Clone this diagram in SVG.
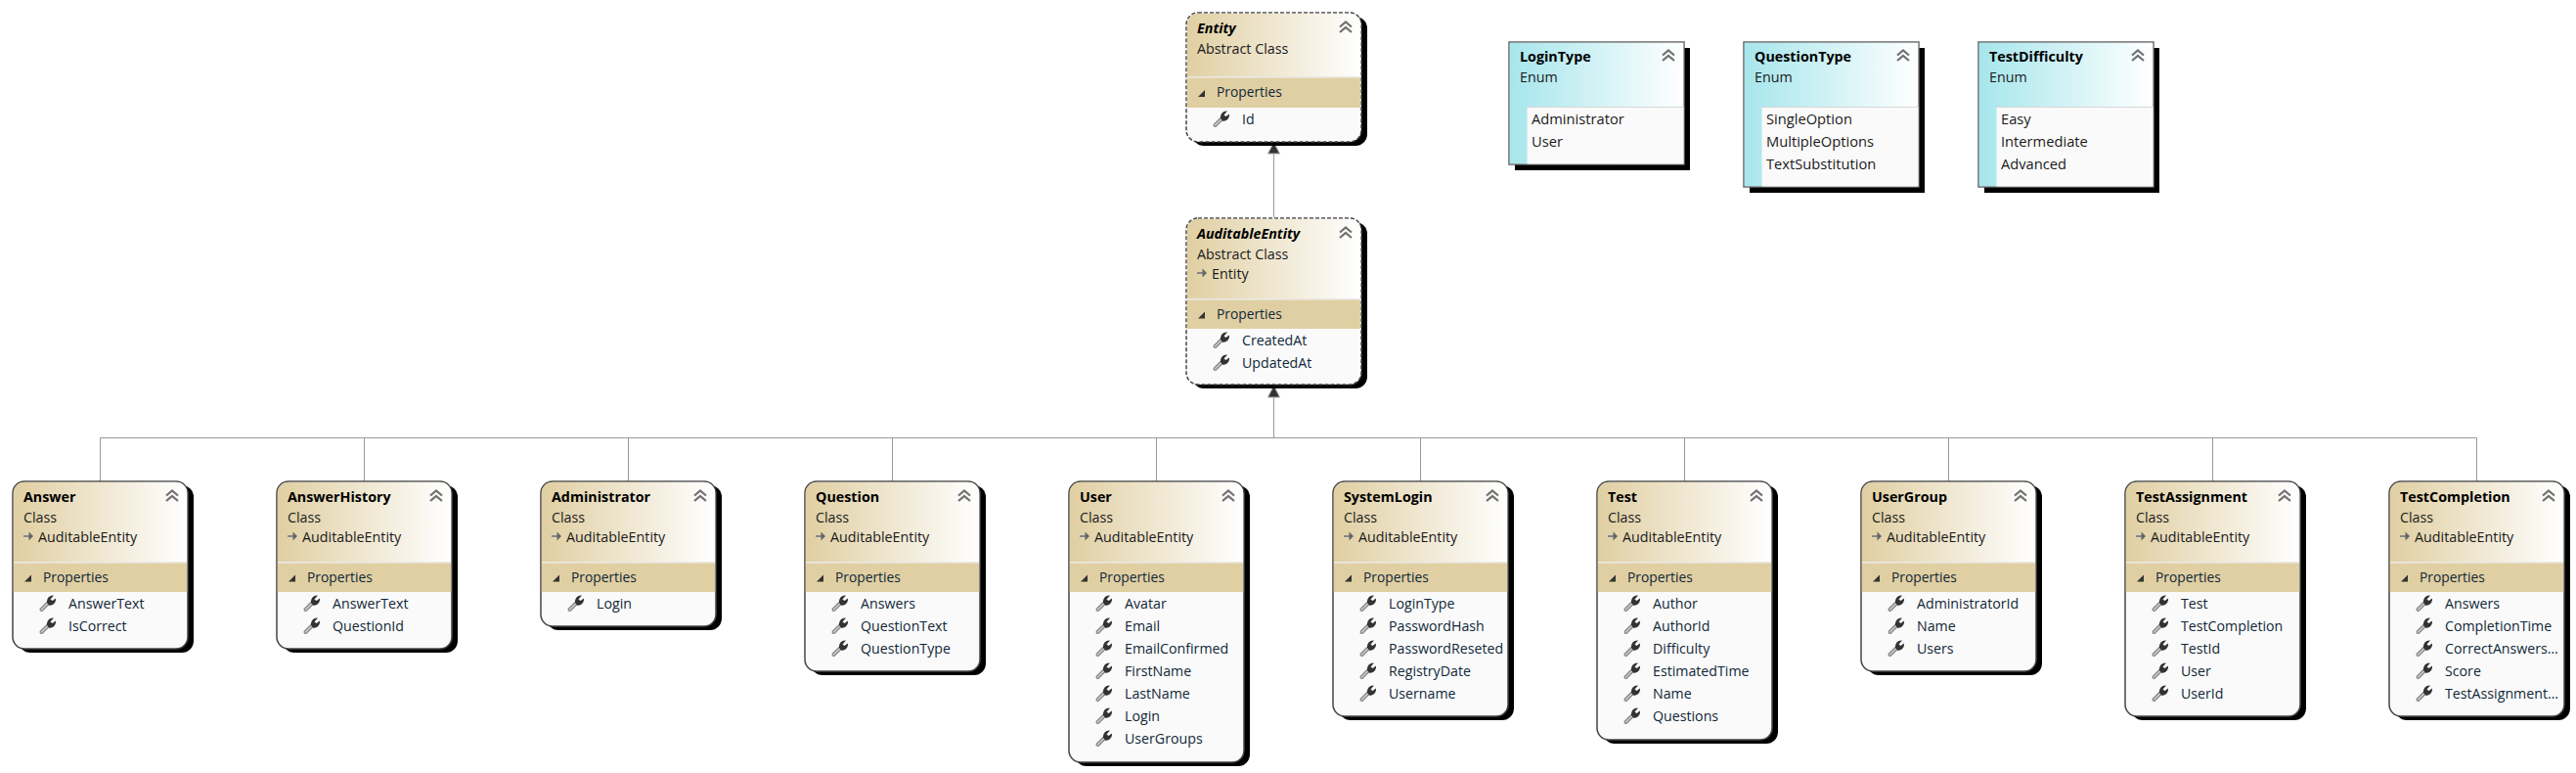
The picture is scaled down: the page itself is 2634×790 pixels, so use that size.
<svg xmlns="http://www.w3.org/2000/svg" width="2634" height="790" viewBox="0 0 2634 790">
<style>
text{font-family:"Open Sans","Noto Sans","Liberation Sans",sans-serif;font-size:14.3px;fill:#1a1a1a}
.t{font-weight:700;fill:#000;font-size:14.3px}
.i{font-style:italic}
.e{font-size:14.7px;fill:#1a1a1a}
.h{font-size:13.8px;fill:#102838}
.b{fill:#000;stroke:none}
.c{fill:#fafafa;stroke:#454545;stroke-width:1.500}
.a{fill:#fafafa;stroke:#454545;stroke-width:1.500;stroke-dasharray:4 2}
.n{fill:#fafafa;stroke:#666;stroke-width:1.500}
.d{fill:#e0cfa2}
.p{fill:#102838;font-size:14.200px}
.l{fill:none;stroke:#999;stroke-width:1}
</style>
<defs>
<linearGradient id="g1"><stop offset="0" stop-color="#e0cfa2"/><stop offset="1" stop-color="#fff"/></linearGradient>
<linearGradient id="g2"><stop offset="0" stop-color="#a6e6ec"/><stop offset="1" stop-color="#fff"/></linearGradient>
<path id="chev" d="M-6 -0.500L0 -5.500L6 -0.500M-6 5L0 0L6 5" fill="none" stroke="#707070" stroke-width="2.200"/>
<g id="wr"><path d="M2.500 15L9 8.500" stroke="#8a8a8a" stroke-width="4" stroke-linecap="round"/><path d="M2.500 15L9 8.500" stroke="#ccc" stroke-width="1.500" stroke-linecap="round"/><path d="M15 0.500C11 0 7.500 3 8 8L10 10.500C14 11.500 17.500 8 17 3.500L13.500 6L11.500 4.500Z" fill="#333"/></g>
<g id="inh"><path d="M0 5H6" stroke="#888" stroke-width="2"/><path d="M5.500 0.500L10 5L5.500 9.500Z" fill="#666"/></g>
<path id="tri" d="M0 7L7 0V7Z" fill="#333"/>
<g id="hd"><path d="M0.800 82V12A11.200 11.200 0 0 1 12 0.800H167A11.200 11.200 0 0 1 178.200 12V82Z" fill="url(#g1)"/><rect x="0.800" y="82" width="177.400" height="1.500" fill="#e8e8e8"/><rect x="0.800" y="83.500" width="177.400" height="29.500" class="d"/><use href="#chev" x="163" y="15"/><use href="#tri" x="12" y="95.500"/></g>
<g id="hd2"><path d="M0.800 66V12A11.200 11.200 0 0 1 12 0.800H167A11.200 11.200 0 0 1 178.200 12V66Z" fill="url(#g1)"/><rect x="0.800" y="65" width="177.400" height="1.500" fill="#e8e8e8"/><rect x="0.800" y="66.500" width="177.400" height="30.500" class="d"/><use href="#chev" x="163" y="15"/><use href="#tri" x="12" y="79"/></g>
<rect id="sh1" class="b" x="6" y="4" width="179" height="171" rx="12"/>
</defs>
<g id="connectors" class="l">
<path d="M1302.500 222V157"/>
<path d="M1302.500 447.500V406"/>
<path d="M102.500 492V447.500H2532.500"/>
<path d="M372.500 492V447.500"/><path d="M642.500 492V447.500"/><path d="M912.500 492V447.500"/><path d="M1182.500 492V447.500"/><path d="M1452.500 492V447.500"/><path d="M1722.500 492V447.500"/><path d="M1992.500 492V447.500"/><path d="M2262.500 492V447.500"/><path d="M2532.500 492V447.500"/>
<path d="M1296.500 157L1302.500 145.500L1308.500 157Z" fill="#333" stroke="#aaa"/>
<path d="M1296.500 406L1302.500 394L1308.500 406Z" fill="#333" stroke="#aaa"/>
</g>
<g id="Entity" transform="translate(1213,13)"><rect class="b" x="6" y="4" width="179" height="132" rx="12"/><rect class="a" width="179" height="132" rx="12"/><use href="#hd2"/><text class="t i" x="11" y="21">Entity</text><text x="11" y="42">Abstract Class</text><text class="h" x="31" y="86">Properties</text><use href="#wr" x="27" y="100"/><text class="p" x="57" y="114">Id</text></g>
<g id="AuditableEntity" transform="translate(1213,223)"><rect class="b" x="6" y="4" width="179" height="170" rx="12"/><rect class="a" width="179" height="170" rx="12"/><use href="#hd"/><text class="t i" x="11" y="21">AuditableEntity</text><text x="11" y="42">Abstract Class</text><use href="#inh" x="11" y="51"/><text x="26" y="62">Entity</text><text class="h" x="31" y="103">Properties</text><use href="#wr" x="27" y="116"/><text class="p" x="57" y="130">CreatedAt</text><use href="#wr" x="27" y="139"/><text class="p" x="57" y="153">UpdatedAt</text></g>
<g id="LoginType" transform="translate(1543,43)"><rect class="b" x="6" y="6" width="179" height="125"/><rect class="n" width="179" height="125"/><rect x="0.800" y="0.800" width="177.400" height="123.400" fill="url(#g2)"/><rect x="18.500" y="66" width="160" height="58.500" fill="#fafafa"/><rect x="18.500" y="66" width="160" height="1" fill="#d8d8d8"/><use href="#chev" x="163" y="14"/><text class="t" x="11" y="20">LoginType</text><text x="11" y="41">Enum</text><text class="e" x="23" y="84">Administrator</text><text class="e" x="23" y="107">User</text></g>
<g id="QuestionType" transform="translate(1783,43)"><rect class="b" x="6" y="6" width="179" height="148"/><rect class="n" width="179" height="148"/><rect x="0.800" y="0.800" width="177.400" height="146.400" fill="url(#g2)"/><rect x="18.500" y="66" width="160" height="81.500" fill="#fafafa"/><rect x="18.500" y="66" width="160" height="1" fill="#d8d8d8"/><use href="#chev" x="163" y="14"/><text class="t" x="11" y="20">QuestionType</text><text x="11" y="41">Enum</text><text class="e" x="23" y="84">SingleOption</text><text class="e" x="23" y="107">MultipleOptions</text><text class="e" x="23" y="130">TextSubstitution</text></g>
<g id="TestDifficulty" transform="translate(2023,43)"><rect class="b" x="6" y="6" width="179" height="148"/><rect class="n" width="179" height="148"/><rect x="0.800" y="0.800" width="177.400" height="146.400" fill="url(#g2)"/><rect x="18.500" y="66" width="160" height="81.500" fill="#fafafa"/><rect x="18.500" y="66" width="160" height="1" fill="#d8d8d8"/><use href="#chev" x="163" y="14"/><text class="t" x="11" y="20">TestDifficulty</text><text x="11" y="41">Enum</text><text class="e" x="23" y="84">Easy</text><text class="e" x="23" y="107">Intermediate</text><text class="e" x="23" y="130">Advanced</text></g>
<g id="Answer" transform="translate(13,492)"><rect class="b" x="6" y="4" width="179" height="171" rx="12"/><rect class="c" width="179" height="171" rx="12"/><use href="#hd"/><text class="t" x="11" y="21">Answer</text><text x="11" y="42">Class</text><use href="#inh" x="11" y="51"/><text x="26" y="62">AuditableEntity</text><text class="h" x="31" y="103">Properties</text><use href="#wr" x="27" y="116"/><text class="p" x="57" y="130">AnswerText</text><use href="#wr" x="27" y="139"/><text class="p" x="57" y="153">IsCorrect</text></g>
<g id="AnswerHistory" transform="translate(283,492)"><rect class="b" x="6" y="4" width="179" height="171" rx="12"/><rect class="c" width="179" height="171" rx="12"/><use href="#hd"/><text class="t" x="11" y="21">AnswerHistory</text><text x="11" y="42">Class</text><use href="#inh" x="11" y="51"/><text x="26" y="62">AuditableEntity</text><text class="h" x="31" y="103">Properties</text><use href="#wr" x="27" y="116"/><text class="p" x="57" y="130">AnswerText</text><use href="#wr" x="27" y="139"/><text class="p" x="57" y="153">QuestionId</text></g>
<g id="Administrator" transform="translate(553,492)"><rect class="b" x="6" y="4" width="179" height="148" rx="12"/><rect class="c" width="179" height="148" rx="12"/><use href="#hd"/><text class="t" x="11" y="21">Administrator</text><text x="11" y="42">Class</text><use href="#inh" x="11" y="51"/><text x="26" y="62">AuditableEntity</text><text class="h" x="31" y="103">Properties</text><use href="#wr" x="27" y="116"/><text class="p" x="57" y="130">Login</text></g>
<g id="Question" transform="translate(823,492)"><rect class="b" x="6" y="4" width="179" height="194" rx="12"/><rect class="c" width="179" height="194" rx="12"/><use href="#hd"/><text class="t" x="11" y="21">Question</text><text x="11" y="42">Class</text><use href="#inh" x="11" y="51"/><text x="26" y="62">AuditableEntity</text><text class="h" x="31" y="103">Properties</text><use href="#wr" x="27" y="116"/><text class="p" x="57" y="130">Answers</text><use href="#wr" x="27" y="139"/><text class="p" x="57" y="153">QuestionText</text><use href="#wr" x="27" y="162"/><text class="p" x="57" y="176">QuestionType</text></g>
<g id="User" transform="translate(1093,492)"><rect class="b" x="6" y="4" width="179" height="287" rx="12"/><rect class="c" width="179" height="287" rx="12"/><use href="#hd"/><text class="t" x="11" y="21">User</text><text x="11" y="42">Class</text><use href="#inh" x="11" y="51"/><text x="26" y="62">AuditableEntity</text><text class="h" x="31" y="103">Properties</text><use href="#wr" x="27" y="116"/><text class="p" x="57" y="130">Avatar</text><use href="#wr" x="27" y="139"/><text class="p" x="57" y="153">Email</text><use href="#wr" x="27" y="162"/><text class="p" x="57" y="176">EmailConfirmed</text><use href="#wr" x="27" y="185"/><text class="p" x="57" y="199">FirstName</text><use href="#wr" x="27" y="208"/><text class="p" x="57" y="222">LastName</text><use href="#wr" x="27" y="231"/><text class="p" x="57" y="245">Login</text><use href="#wr" x="27" y="254"/><text class="p" x="57" y="268">UserGroups</text></g>
<g id="SystemLogin" transform="translate(1363,492)"><rect class="b" x="6" y="4" width="179" height="240" rx="12"/><rect class="c" width="179" height="240" rx="12"/><use href="#hd"/><text class="t" x="11" y="21">SystemLogin</text><text x="11" y="42">Class</text><use href="#inh" x="11" y="51"/><text x="26" y="62">AuditableEntity</text><text class="h" x="31" y="103">Properties</text><use href="#wr" x="27" y="116"/><text class="p" x="57" y="130">LoginType</text><use href="#wr" x="27" y="139"/><text class="p" x="57" y="153">PasswordHash</text><use href="#wr" x="27" y="162"/><text class="p" x="57" y="176">PasswordReseted</text><use href="#wr" x="27" y="185"/><text class="p" x="57" y="199">RegistryDate</text><use href="#wr" x="27" y="208"/><text class="p" x="57" y="222">Username</text></g>
<g id="Test" transform="translate(1633,492)"><rect class="b" x="6" y="4" width="179" height="264" rx="12"/><rect class="c" width="179" height="264" rx="12"/><use href="#hd"/><text class="t" x="11" y="21">Test</text><text x="11" y="42">Class</text><use href="#inh" x="11" y="51"/><text x="26" y="62">AuditableEntity</text><text class="h" x="31" y="103">Properties</text><use href="#wr" x="27" y="116"/><text class="p" x="57" y="130">Author</text><use href="#wr" x="27" y="139"/><text class="p" x="57" y="153">AuthorId</text><use href="#wr" x="27" y="162"/><text class="p" x="57" y="176">Difficulty</text><use href="#wr" x="27" y="185"/><text class="p" x="57" y="199">EstimatedTime</text><use href="#wr" x="27" y="208"/><text class="p" x="57" y="222">Name</text><use href="#wr" x="27" y="231"/><text class="p" x="57" y="245">Questions</text></g>
<g id="UserGroup" transform="translate(1903,492)"><rect class="b" x="6" y="4" width="179" height="194" rx="12"/><rect class="c" width="179" height="194" rx="12"/><use href="#hd"/><text class="t" x="11" y="21">UserGroup</text><text x="11" y="42">Class</text><use href="#inh" x="11" y="51"/><text x="26" y="62">AuditableEntity</text><text class="h" x="31" y="103">Properties</text><use href="#wr" x="27" y="116"/><text class="p" x="57" y="130">AdministratorId</text><use href="#wr" x="27" y="139"/><text class="p" x="57" y="153">Name</text><use href="#wr" x="27" y="162"/><text class="p" x="57" y="176">Users</text></g>
<g id="TestAssignment" transform="translate(2173,492)"><rect class="b" x="6" y="4" width="179" height="240" rx="12"/><rect class="c" width="179" height="240" rx="12"/><use href="#hd"/><text class="t" x="11" y="21">TestAssignment</text><text x="11" y="42">Class</text><use href="#inh" x="11" y="51"/><text x="26" y="62">AuditableEntity</text><text class="h" x="31" y="103">Properties</text><use href="#wr" x="27" y="116"/><text class="p" x="57" y="130">Test</text><use href="#wr" x="27" y="139"/><text class="p" x="57" y="153">TestCompletion</text><use href="#wr" x="27" y="162"/><text class="p" x="57" y="176">TestId</text><use href="#wr" x="27" y="185"/><text class="p" x="57" y="199">User</text><use href="#wr" x="27" y="208"/><text class="p" x="57" y="222">UserId</text></g>
<g id="TestCompletion" transform="translate(2443,492)"><rect class="b" x="6" y="4" width="179" height="240" rx="12"/><rect class="c" width="179" height="240" rx="12"/><use href="#hd"/><text class="t" x="11" y="21">TestCompletion</text><text x="11" y="42">Class</text><use href="#inh" x="11" y="51"/><text x="26" y="62">AuditableEntity</text><text class="h" x="31" y="103">Properties</text><use href="#wr" x="27" y="116"/><text class="p" x="57" y="130">Answers</text><use href="#wr" x="27" y="139"/><text class="p" x="57" y="153">CompletionTime</text><use href="#wr" x="27" y="162"/><text class="p" x="57" y="176">CorrectAnswers…</text><use href="#wr" x="27" y="185"/><text class="p" x="57" y="199">Score</text><use href="#wr" x="27" y="208"/><text class="p" x="57" y="222">TestAssignment…</text></g>
</svg>
